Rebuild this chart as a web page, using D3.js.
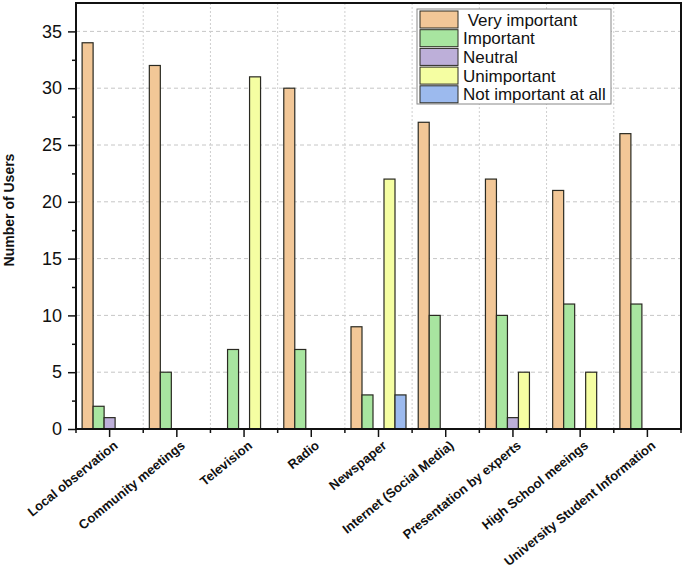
<!DOCTYPE html>
<html>
<head>
<meta charset="utf-8">
<script src="https://cdn.jsdelivr.net/npm/d3@7"></script>
<style>
html,body{margin:0;padding:0;background:#fff;}
svg{display:block;font-family:"Liberation Sans",Arial,sans-serif;}
</style>
</head>
<body>
<svg id="chart" width="685" height="569"></svg>
<script>
const categories = ["Local observation","Community meetings","Television","Radio","Newspaper","Internet (Social Media)","Presentation by experts","High School meeings","University Student Information"];
const seriesNames = [" Very important","Important","Neutral","Unimportant","Not important at all"];
const veryImportant = [34,32,0,30,9,27,22,21,26];
const important = [2,5,7,7,3,10,10,11,11];
const neutral = [1,0,0,0,0,0,1,0,0];
const unimportant = [0,0,31,0,22,0,5,5,0];
const notImportant = [0,0,0,0,3,0,0,0,0];
const seriesValues = [veryImportant, important, neutral, unimportant, notImportant];
const colors = ["#F2C797","#A8E5A0","#BDAFD9","#F5FEA2","#9CBAEE"];
const yTicks = [0,5,10,15,20,25,30,35];

const svg = d3.select("#chart");
const L = 76, R = 681, T = 3, B = 429;

const x0 = d3.scaleBand().domain(categories).range([L, R]).padding(0);
const bw = x0.bandwidth();
const gw = 55;
const x1 = d3.scaleBand().domain(d3.range(seriesNames.length)).range([(bw-gw)/2, (bw+gw)/2]).padding(0);
const y = d3.scaleLinear().domain([0, 37.5]).range([B, T]);

// grid
const grid = svg.append("g");
grid.selectAll("line.h").data(yTicks.filter(d=>d>0)).join("line")
  .attr("x1", L).attr("x2", R).attr("y1", d=>y(d)).attr("y2", d=>y(d))
  .attr("stroke", "#c6c6c6").attr("stroke-width", 1).attr("stroke-dasharray", "4,3");
grid.selectAll("line.v").data(categories.slice(1)).join("line")
  .attr("x1", d=>x0(d)).attr("x2", d=>x0(d)).attr("y1", T).attr("y2", B)
  .attr("stroke", "#cfcfcf").attr("stroke-width", 1).attr("stroke-dasharray", "2,2");

// bars
const flat = [];
categories.forEach((c, ci) => seriesValues.forEach((vals, si) => {
  if (vals[ci] > 0) flat.push({c, si, v: vals[ci]});
}));
svg.append("g").selectAll("rect").data(flat).join("rect")
  .attr("x", d => x0(d.c) + x1(d.si))
  .attr("y", d => y(d.v))
  .attr("width", x1.bandwidth())
  .attr("height", d => B - y(d.v))
  .attr("fill", d => colors[d.si])
  .attr("stroke", "#2a2a22").attr("stroke-width", 1.2);

// frame
svg.append("rect").attr("x", L).attr("y", T).attr("width", R-L).attr("height", B-T)
  .attr("fill", "none").attr("stroke", "#111").attr("stroke-width", 2);

// y axis
const yAxis = d3.axisLeft(y).tickValues(yTicks).tickSize(8).tickPadding(6);
const gy = svg.append("g").attr("transform", `translate(${L},0)`).call(yAxis);
gy.select(".domain").remove();
gy.selectAll(".tick line").attr("stroke", "#111").attr("stroke-width", 1.5);
gy.selectAll(".tick text").attr("font-size", 18).attr("fill", "#111").attr("font-family", "Liberation Sans, Arial, sans-serif");
const yMinor = d3.axisLeft(y).tickValues(d3.range(2.5, 37.5, 5)).tickSize(4).tickFormat("");
const gym = svg.append("g").attr("transform", `translate(${L},0)`).call(yMinor);
gym.select(".domain").remove();
gym.selectAll(".tick line").attr("stroke", "#111").attr("stroke-width", 1.5);

// x axis
const xAxis = d3.axisBottom(x0).tickSize(8).tickFormat("");
const gx = svg.append("g").attr("transform", `translate(0,${B})`).call(xAxis);
gx.select(".domain").remove();
gx.selectAll(".tick line").attr("stroke", "#111").attr("stroke-width", 1.5);
svg.append("g").selectAll("line").data(categories.map(c=>x0(c)).concat([R])).join("line")
  .attr("x1", d=>d).attr("x2", d=>d).attr("y1", B).attr("y2", B+4)
  .attr("stroke", "#111").attr("stroke-width", 1.5);
svg.append("g").selectAll("text").data(categories).join("text")
  .attr("transform", d => `translate(${x0(d)+bw/2+9},${B+18}) rotate(-39)`)
  .attr("text-anchor", "end")
  .attr("font-size", 13).attr("font-weight", "bold").attr("fill", "#111")
  .text(d => d);

// y title
svg.append("text")
  .attr("transform", `translate(14,210) rotate(-90)`)
  .attr("text-anchor", "middle")
  .attr("font-size", 14).attr("font-weight", "bold").attr("fill", "#111")
  .text("Number of Users");

// legend
const lg = svg.append("g");
lg.append("rect").attr("x", 417).attr("y", 9).attr("width", 194).attr("height", 95)
  .attr("fill", "#fff").attr("stroke", "#888").attr("stroke-width", 1);
const items = lg.selectAll("g.item").data(seriesNames).join("g")
  .attr("transform", (d,i) => `translate(420,${11 + i*18.7})`);
items.append("rect").attr("width", 38).attr("height", 17)
  .attr("fill", (d,i) => colors[i]).attr("stroke", "#2a2a22").attr("stroke-width", 1);
items.append("text").attr("x", 43).attr("y", 14.5)
  .attr("font-size", 17).attr("fill", "#111")
  .style("white-space", "pre")
  .text(d => d);
</script>
</body>
</html>
